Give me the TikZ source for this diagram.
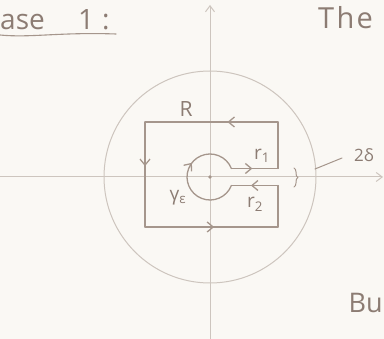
\documentclass[tikz,border=0pt]{standalone}
\usepackage{fontspec}
\setmainfont{Open Sans}
\usetikzlibrary{arrows.meta,decorations.markings,decorations.pathreplacing}
\definecolor{paper}{RGB}{250,248,244}
\definecolor{pencil}{RGB}{165,150,140}
\definecolor{lightpencil}{RGB}{205,197,190}
\definecolor{ink}{RGB}{140,124,115}
\begin{document}
\begin{tikzpicture}[x=1pt,y=-1pt,line cap=round,line join=round,
  midarrow/.style={postaction={decorate},decoration={markings,mark=at position #1 with {\arrow{Straight Barb[length=6pt,width=10pt]}}}},
  contour/.style={draw=pencil,line width=1.3pt},
  axisline/.style={draw=lightpencil,line width=1pt},
  lbl/.style={text=ink,inner sep=0pt}]
\fill[paper] (0,0) rectangle (384,339);
\useasboundingbox (0,0) rectangle (384,339);
% axes
\coordinate (O) at (210,177);
\coordinate (yb) at (210,339);
\coordinate (yt) at (210,5);
\coordinate (xl) at (0,177);
\coordinate (xr) at (383,177);
\draw[axisline,-{Straight Barb[length=6pt,width=9pt]}] (yb) -- (yt);
\draw[axisline,-{Straight Barb[length=6pt,width=9pt]}] (xl) -- (xr);
\draw[axisline] (O) circle[radius=106];
\fill[pencil] (O) circle[radius=1.8];
% keyhole contour
\coordinate (a1) at (231.4,168.5);
\coordinate (a2) at (278,168.5);
\coordinate (tr) at (278,122);
\coordinate (tl) at (145,122);
\coordinate (bl) at (145,227);
\coordinate (br) at (278,227);
\coordinate (b2) at (278,185.5);
\coordinate (b1) at (231.4,185.5);
\draw[contour,midarrow=0.45] (a1) -- (a2);
\draw[contour] (a2) -- (tr);
\draw[contour,midarrow=0.38] (tr) -- (tl);
\draw[contour,midarrow=0.42] (tl) -- (bl);
\draw[contour,midarrow=0.52] (bl) -- (br);
\draw[contour] (br) -- (b2);
\draw[contour,midarrow=0.58] (b2) -- (b1);
\draw[contour,midarrow=0.62] (b1) arc[start angle=-338.3,end angle=-21.7,radius=23];
% brace and 2delta
\coordinate (bt) at (294,168);
\coordinate (bb) at (294,187);
\draw[contour,line width=1pt,decorate,decoration={brace,amplitude=4pt}] (bt) -- (bb);
\coordinate (t1) at (315,169);
\coordinate (t2) at (342,158);
\draw[contour,line width=1pt] (t1) -- (t2);
% labels
\node[lbl,font=\fontsize{21}{23}\selectfont] (R) at (186,109) {R};
\node[lbl,font=\fontsize{19}{21}\selectfont] (r1) at (262,156) {r\textsubscript{1}};
\node[lbl,font=\fontsize{19}{21}\selectfont] (r2) at (255,204) {r\textsubscript{2}};
\node[lbl,font=\fontsize{19}{21}\selectfont] (ge) at (178,198) {γ\textsubscript{ε}};
\node[lbl,font=\fontsize{17}{19}\selectfont] (dl) at (364,155) {2δ};
% text fragments
\node[lbl,anchor=base west,font=\fontsize{28}{30}\selectfont] (c1) at (0,30) {ase};
\node[lbl,anchor=base west,font=\fontsize{28}{30}\selectfont] (c2) at (78,30) {1};
\node[lbl,anchor=base west,font=\fontsize{28}{30}\selectfont] (c3) at (102,30) {:};
\draw[contour,line width=1.1pt] (0,35) .. controls (30,38) and (60,32) .. (116,34);
\node[lbl,anchor=base west,font=\fontsize{29}{31}\selectfont] (th) at (318,29) {\addfontfeature{LetterSpace=8}The};
\node[lbl,anchor=base east,font=\fontsize{27}{29}\selectfont] (bu) at (383,313) {Bu};
\end{tikzpicture}
\end{document}
